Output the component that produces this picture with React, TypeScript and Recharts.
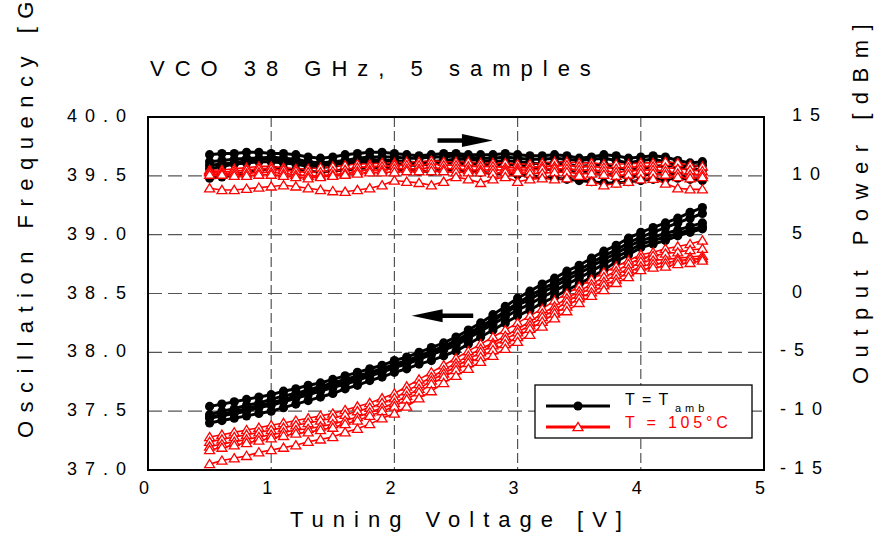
import React from 'react';
import {
    LineChart,
    Line,
    XAxis,
    YAxis,
    CartesianGrid,
    ReferenceArea,
    ReferenceLine
} from 'recharts';

const FONT = '"Liberation Sans", Arial, sans-serif';

// tuning voltage [V]
const volts = [
    0.5, 0.6, 0.7, 0.8, 0.9, 1.0, 1.1, 1.2, 1.3, 1.4, 1.5, 1.6, 1.7, 1.8, 1.9, 2.0, 2.1, 2.2, 2.3, 2.4, 2.5,
    2.6, 2.7, 2.8, 2.9, 3.0, 3.1, 3.2, 3.3, 3.4, 3.5, 3.6, 3.7, 3.8, 3.9, 4.0, 4.1, 4.2, 4.3, 4.4, 4.5
];

// oscillation frequency [GHz], T = Tamb
const freqAmb1 = [37.54, 37.56, 37.58, 37.60, 37.62, 37.64, 37.67, 37.69, 37.72, 37.74, 37.77, 37.80, 37.83, 37.86, 37.89, 37.93, 37.96, 38.00, 38.04, 38.08, 38.13, 38.19, 38.25, 38.32, 38.39, 38.46, 38.52, 38.58, 38.63, 38.69, 38.74, 38.80, 38.86, 38.91, 38.97, 39.02, 39.06, 39.10, 39.14, 39.19, 39.23];
const freqAmb2 = [37.47, 37.50, 37.52, 37.55, 37.57, 37.60, 37.63, 37.65, 37.68, 37.71, 37.74, 37.77, 37.80, 37.83, 37.86, 37.90, 37.93, 37.97, 38.01, 38.05, 38.10, 38.16, 38.22, 38.28, 38.35, 38.42, 38.48, 38.54, 38.59, 38.65, 38.70, 38.76, 38.82, 38.87, 38.93, 38.98, 39.02, 39.06, 39.10, 39.14, 39.18];
const freqAmb3 = [37.44, 37.46, 37.48, 37.50, 37.53, 37.55, 37.58, 37.61, 37.64, 37.67, 37.70, 37.73, 37.76, 37.80, 37.83, 37.87, 37.90, 37.94, 37.98, 38.02, 38.06, 38.12, 38.18, 38.24, 38.30, 38.36, 38.41, 38.47, 38.52, 38.58, 38.63, 38.69, 38.75, 38.81, 38.86, 38.92, 38.95, 38.98, 39.01, 39.04, 39.07];
const freqAmb4 = [37.40, 37.42, 37.44, 37.46, 37.48, 37.50, 37.53, 37.56, 37.59, 37.62, 37.65, 37.69, 37.72, 37.76, 37.79, 37.83, 37.86, 37.90, 37.93, 37.97, 38.01, 38.07, 38.13, 38.19, 38.25, 38.31, 38.36, 38.42, 38.47, 38.53, 38.58, 38.64, 38.70, 38.77, 38.83, 38.89, 38.92, 38.95, 38.99, 39.02, 39.05];
const freqAmb5 = [37.45, 37.47, 37.50, 37.52, 37.55, 37.57, 37.60, 37.63, 37.66, 37.69, 37.72, 37.75, 37.78, 37.82, 37.85, 37.88, 37.92, 37.96, 38.00, 38.04, 38.08, 38.14, 38.20, 38.27, 38.33, 38.40, 38.45, 38.51, 38.56, 38.62, 38.67, 38.73, 38.79, 38.84, 38.90, 38.95, 38.98, 39.01, 39.04, 39.07, 39.10];

// oscillation frequency [GHz], T = 105 °C
const freqHot1 = [37.28, 37.30, 37.32, 37.34, 37.36, 37.38, 37.40, 37.42, 37.44, 37.46, 37.48, 37.51, 37.54, 37.57, 37.61, 37.65, 37.71, 37.77, 37.83, 37.89, 37.95, 38.01, 38.07, 38.13, 38.19, 38.25, 38.31, 38.37, 38.44, 38.50, 38.56, 38.62, 38.68, 38.73, 38.78, 38.83, 38.85, 38.88, 38.90, 38.92, 38.95];
const freqHot2 = [37.24, 37.26, 37.28, 37.30, 37.32, 37.34, 37.36, 37.38, 37.40, 37.42, 37.44, 37.47, 37.50, 37.53, 37.57, 37.61, 37.67, 37.73, 37.79, 37.85, 37.91, 37.97, 38.03, 38.08, 38.14, 38.20, 38.26, 38.33, 38.39, 38.46, 38.52, 38.58, 38.64, 38.69, 38.75, 38.80, 38.82, 38.84, 38.85, 38.87, 38.88];
const freqHot3 = [37.20, 37.22, 37.24, 37.26, 37.28, 37.30, 37.32, 37.34, 37.35, 37.37, 37.39, 37.42, 37.45, 37.49, 37.53, 37.57, 37.63, 37.69, 37.76, 37.82, 37.88, 37.94, 38.00, 38.06, 38.11, 38.17, 38.23, 38.30, 38.36, 38.43, 38.49, 38.55, 38.60, 38.66, 38.71, 38.77, 38.78, 38.79, 38.80, 38.81, 38.82];
const freqHot4 = [37.17, 37.19, 37.21, 37.23, 37.25, 37.27, 37.29, 37.31, 37.32, 37.34, 37.36, 37.39, 37.42, 37.46, 37.50, 37.54, 37.60, 37.66, 37.73, 37.79, 37.85, 37.91, 37.96, 38.02, 38.07, 38.13, 38.20, 38.26, 38.33, 38.39, 38.46, 38.51, 38.57, 38.62, 38.68, 38.73, 38.75, 38.76, 38.78, 38.79, 38.80];
const freqHot5 = [37.05, 37.08, 37.10, 37.12, 37.15, 37.17, 37.19, 37.21, 37.24, 37.26, 37.28, 37.32, 37.35, 37.39, 37.44, 37.48, 37.54, 37.61, 37.67, 37.74, 37.80, 37.86, 37.92, 37.97, 38.03, 38.09, 38.15, 38.22, 38.29, 38.35, 38.42, 38.48, 38.53, 38.59, 38.64, 38.70, 38.72, 38.73, 38.75, 38.76, 38.78];

// output power [dBm], T = Tamb
const powAmb1 = [11.8, 11.9, 11.9, 12.0, 12.0, 11.9, 11.9, 11.8, 11.6, 11.5, 11.6, 11.8, 11.9, 12.0, 12.0, 11.9, 11.8, 11.7, 11.8, 11.9, 11.9, 11.8, 11.8, 11.8, 11.9, 11.8, 11.7, 11.7, 11.8, 11.7, 11.5, 11.6, 11.8, 11.7, 11.5, 11.6, 11.7, 11.6, 11.3, 11.1, 11.2];
const powAmb2 = [11.2, 11.3, 11.4, 11.5, 11.5, 11.6, 11.5, 11.4, 11.2, 11.1, 11.2, 11.3, 11.5, 11.6, 11.6, 11.6, 11.5, 11.5, 11.6, 11.6, 11.7, 11.6, 11.5, 11.5, 11.6, 11.5, 11.4, 11.4, 11.5, 11.4, 11.3, 11.4, 11.5, 11.3, 11.1, 11.3, 11.4, 11.2, 10.9, 10.8, 10.9];
const powAmb3 = [10.9, 11.0, 11.1, 11.3, 11.4, 11.4, 11.3, 11.2, 11.0, 10.9, 11.0, 11.1, 11.3, 11.4, 11.3, 11.3, 11.2, 11.1, 11.2, 11.3, 11.4, 11.4, 11.3, 11.2, 11.3, 11.2, 11.1, 11.0, 11.1, 11.0, 10.8, 10.9, 11.0, 10.7, 10.5, 10.6, 10.8, 10.9, 10.8, 10.6, 10.5];
const powAmb4 = [10.6, 10.8, 11.0, 11.1, 11.2, 11.2, 11.1, 11.0, 10.8, 10.7, 10.8, 11.0, 11.1, 11.2, 11.1, 11.0, 10.9, 10.9, 11.0, 11.1, 11.1, 11.0, 11.0, 10.9, 11.0, 10.9, 10.8, 10.6, 10.5, 10.4, 10.3, 10.3, 10.2, 10.0, 9.9, 10.0, 10.2, 10.3, 10.1, 9.8, 9.8];
const powAmb5 = [9.8, 9.9, 10.1, 10.3, 10.5, 10.6, 10.6, 10.5, 10.4, 10.3, 10.4, 10.5, 10.6, 10.7, 10.7, 10.6, 10.5, 10.4, 10.4, 10.5, 10.5, 10.4, 10.3, 10.2, 10.2, 10.1, 10.0, 9.9, 9.8, 9.7, 9.6, 9.5, 9.4, 9.4, 9.5, 9.6, 9.7, 9.7, 9.8, 9.7, 9.6];

// output power [dBm], T = 105 °C
const powHot1 = [10.5, 10.5, 10.6, 10.7, 10.8, 10.8, 10.7, 10.6, 10.6, 10.7, 10.8, 10.9, 11.0, 11.0, 11.1, 11.1, 11.2, 11.2, 11.3, 11.2, 11.2, 11.2, 11.1, 11.1, 11.1, 11.0, 11.0, 11.1, 11.2, 11.2, 11.1, 11.1, 11.0, 11.0, 11.0, 11.1, 11.1, 11.2, 11.1, 10.9, 10.8];
const powHot2 = [10.4, 10.3, 10.4, 10.5, 10.6, 10.6, 10.5, 10.4, 10.3, 10.3, 10.4, 10.5, 10.7, 10.8, 10.8, 10.9, 10.9, 10.9, 11.0, 10.9, 10.9, 10.8, 10.8, 10.8, 10.7, 10.7, 10.7, 10.8, 10.8, 10.9, 10.8, 10.8, 10.7, 10.6, 10.7, 10.8, 10.8, 10.7, 10.6, 10.5, 10.4];
const powHot3 = [10.3, 10.2, 10.2, 10.2, 10.3, 10.3, 10.2, 10.1, 10.0, 10.0, 10.1, 10.2, 10.4, 10.5, 10.5, 10.6, 10.6, 10.6, 10.7, 10.6, 10.6, 10.5, 10.5, 10.5, 10.5, 10.5, 10.5, 10.6, 10.6, 10.6, 10.5, 10.5, 10.4, 10.3, 10.4, 10.5, 10.5, 10.4, 10.2, 10.1, 10.1];
const powHot4 = [10.1, 10.1, 10.0, 10.0, 10.1, 10.1, 10.0, 9.9, 9.8, 9.9, 10.0, 10.1, 10.2, 10.3, 10.3, 10.3, 10.4, 10.4, 10.4, 10.4, 10.3, 10.3, 10.3, 10.2, 10.3, 10.3, 10.2, 10.2, 10.3, 10.3, 10.2, 10.2, 10.1, 10.0, 10.1, 10.2, 10.2, 10.1, 9.9, 9.8, 9.9];
const powHot5 = [8.95, 8.8, 8.8, 8.9, 9.0, 9.1, 9.2, 9.1, 8.95, 8.8, 8.7, 8.65, 8.8, 8.95, 9.2, 9.6, 9.5, 9.4, 9.2, 9.5, 9.9, 9.7, 9.4, 9.7, 9.9, 9.5, 9.7, 9.8, 9.7, 9.8, 10.0, 9.5, 9.2, 9.35, 9.5, 9.7, 9.75, 9.35, 8.95, 8.85, 8.85];

const voltTicks = [0, 1, 2, 3, 4, 5];
const freqTicks = [37.0, 37.5, 38.0, 38.5, 39.0, 39.5, 40.0];
const powTicks = [-15, -10, -5, 0, 5, 10, 15];

const series = [
    { id: 'pa1', values: powAmb1, axis: 'p', hot: false },
    { id: 'pa2', values: powAmb2, axis: 'p', hot: false },
    { id: 'pa3', values: powAmb3, axis: 'p', hot: false },
    { id: 'pa4', values: powAmb4, axis: 'p', hot: false },
    { id: 'pa5', values: powAmb5, axis: 'p', hot: false },
    { id: 'fa1', values: freqAmb1, axis: 'f', hot: false },
    { id: 'fa2', values: freqAmb2, axis: 'f', hot: false },
    { id: 'fa3', values: freqAmb3, axis: 'f', hot: false },
    { id: 'fa4', values: freqAmb4, axis: 'f', hot: false },
    { id: 'fa5', values: freqAmb5, axis: 'f', hot: false },
    { id: 'ph1', values: powHot1, axis: 'p', hot: true },
    { id: 'ph2', values: powHot2, axis: 'p', hot: true },
    { id: 'ph3', values: powHot3, axis: 'p', hot: true },
    { id: 'ph4', values: powHot4, axis: 'p', hot: true },
    { id: 'ph5', values: powHot5, axis: 'p', hot: true },
    { id: 'fh1', values: freqHot1, axis: 'f', hot: true },
    { id: 'fh2', values: freqHot2, axis: 'f', hot: true },
    { id: 'fh3', values: freqHot3, axis: 'f', hot: true },
    { id: 'fh4', values: freqHot4, axis: 'f', hot: true },
    { id: 'fh5', values: freqHot5, axis: 'f', hot: true }
];

const rows = volts.map((v, i) => {
    const row: any = { v };
    series.forEach((s) => {
        row[s.id] = s.values[i];
    });
    return row;
});

const RED = '#ff0000';

const circleDot = (p: any) => <circle key={p.index} cx={p.cx} cy={p.cy} r={4.6} fill="#000" />;

const triangleDot = (p: any) => (
    <path
        key={p.index}
        d={`M${p.cx},${p.cy - 4.6} L${p.cx + 5},${p.cy + 3.6} L${p.cx - 5},${p.cy + 3.6} Z`}
        fill="#fff"
        stroke={RED}
        strokeWidth={1.3}
    />
);

const tickText = { fontFamily: FONT, fontSize: 18, letterSpacing: 8, fill: '#000' };

const LeftTick = (p: any) => (
    <text x={134} y={p.y + 5} textAnchor="end" {...tickText}>
        {Number(p.payload.value).toFixed(1)}
    </text>
);

const RightTick = (p: any) => {
    const v = Number(p.payload.value);
    return (
        <text x={v < 0 ? 780 : 792} y={p.y + 4} textAnchor="start" {...tickText}>
            {String(v)}
        </text>
    );
};

const BottomTick = (p: any) => (
    <text x={p.x} y={494} textAnchor="middle" {...tickText}>
        {String(p.payload.value)}
    </text>
);

// arrow drawn along a reference segment, head at the second point
const Arrow = (p: any) => {
    const { x1, y1, x2, y2 } = p;
    const dir = x2 > x1 ? 1 : -1;
    const head = 31;
    const bx = x2 - dir * head;
    return (
        <g>
            <line x1={x1} y1={y1} x2={bx + dir * 2} y2={y2} stroke="#000" strokeWidth={4.5} />
            <path d={`M${x2},${y2} L${bx},${y2 - 6.5} L${bx},${y2 + 6.5} Z`} fill="#000" />
        </g>
    );
};

export default function App() {
    const titleText = { fontFamily: FONT, fontSize: 22, fill: '#000' };
    return (
        <div style={{ position: 'absolute', left: 0, top: 0, width: 877, height: 538, background: '#fff' }}>
            <LineChart width={877} height={538} data={rows} margin={{ top: 117, right: 0, bottom: 0, left: 0 }}>
                <CartesianGrid yAxisId="f" vertical={false} stroke="#555" strokeWidth={1.2} strokeDasharray="14 6" />
                <CartesianGrid yAxisId="f" horizontal={false} stroke="#555" strokeWidth={1.2} strokeDasharray="10 4" />
                <XAxis
                    dataKey="v"
                    type="number"
                    domain={[0, 5]}
                    ticks={voltTicks}
                    height={68}
                    tickLine={false}
                    axisLine={false}
                    tick={BottomTick}
                />
                <YAxis
                    yAxisId="f"
                    orientation="left"
                    type="number"
                    domain={[37, 40]}
                    ticks={freqTicks}
                    width={148}
                    tickLine={false}
                    axisLine={false}
                    tick={LeftTick}
                />
                <YAxis
                    yAxisId="p"
                    orientation="right"
                    type="number"
                    domain={[-15, 15]}
                    ticks={powTicks}
                    width={113}
                    tickLine={false}
                    axisLine={false}
                    tick={RightTick}
                />
                {series.map((s) => (
                    <Line
                        key={s.id}
                        yAxisId={s.axis}
                        dataKey={s.id}
                        type="linear"
                        stroke={s.hot ? RED : '#000'}
                        strokeWidth={s.hot ? 1.6 : 3}
                        dot={s.hot ? triangleDot : circleDot}
                        activeDot={false}
                        isAnimationActive={false}
                    />
                ))}
                <ReferenceLine
                    yAxisId="f"
                    segment={[{ x: 2.35, y: 39.8 }, { x: 2.8, y: 39.8 }]}
                    shape={(p: any) => <Arrow {...p} />}
                />
                <ReferenceLine
                    yAxisId="f"
                    segment={[{ x: 2.64, y: 38.31 }, { x: 2.14, y: 38.31 }]}
                    shape={(p: any) => <Arrow {...p} />}
                />
                <ReferenceArea
                    yAxisId="f"
                    x1={0}
                    x2={5}
                    y1={37}
                    y2={40}
                    fill="none"
                    stroke="#000"
                    strokeWidth={2}
                    fillOpacity={0}
                    ifOverflow="visible"
                />
            </LineChart>
            <svg
                width={877}
                height={538}
                style={{ position: 'absolute', left: 0, top: 0, pointerEvents: 'none' }}
            >
                <text x={150} y={76} letterSpacing={10} {...titleText}>
                    VCO 38 GHz, 5 samples
                </text>
                <text x={290} y={527} letterSpacing={9} {...titleText}>
                    Tuning Voltage [V]
                </text>
                <text transform="translate(33,438) rotate(-90)" letterSpacing={8.5} {...titleText}>
                    Oscillation Frequency [GHz]
                </text>
                <text transform="translate(868,384) rotate(-90)" letterSpacing={9.5} {...titleText}>
                    Output Power [dBm]
                </text>
                <g>
                    <rect x={535} y={385} width={217} height={53} fill="#fff" stroke="#000" strokeWidth={1.3} />
                    <line x1={546} y1={406} x2={610} y2={406} stroke="#000" strokeWidth={3} />
                    <circle cx={578} cy={406} r={4.6} fill="#000" />
                    <line x1={546} y1={427} x2={610} y2={427} stroke={RED} strokeWidth={3} />
                    <path d="M578,422.4 L583,430.6 L573,430.6 Z" fill="#fff" stroke={RED} strokeWidth={1.3} />
                    <text x={625} y={405} fontFamily={FONT} fontSize={16} letterSpacing={1.5} fill="#000">
                        T = T
                    </text>
                    <text x={675} y={412} fontFamily={FONT} fontSize={11} letterSpacing={4} fill="#000">
                        amb
                    </text>
                    <text x={625} y={428} fontFamily={FONT} fontSize={16} letterSpacing={3.8} fill={RED}>
                        T = 105°C
                    </text>
                </g>
            </svg>
        </div>
    );
}
